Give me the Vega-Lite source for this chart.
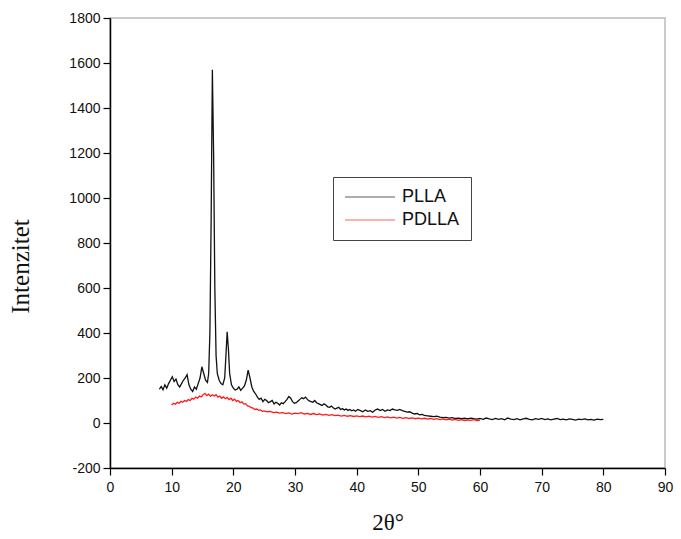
{
  "$schema": "https://vega.github.io/schema/vega-lite/v6.json",
  "autosize": "none",
  "width": 555,
  "height": 450,
  "padding": {"left": 110, "top": 18, "right": 16, "bottom": 71},
  "background": "white",
  "config": {
    "view": {"stroke": "#bbbbbb", "strokeWidth": 1.5},
    "axis": {"grid": false, "domainColor": "#000000", "domainWidth": 1.5, "tickColor": "#000000", "tickWidth": 1.2, "labelFont": "Liberation Sans", "labelFontSize": 14, "labelColor": "#111111", "titleFont": "Liberation Serif", "titleFontSize": 23, "titleFontWeight": "normal", "titleColor": "#111111"}
  },
  "datasets": {
    "pl": [
      {"t":8.0,"i":150,"s":"PLLA"},{"t":8.3,"i":162,"s":"PLLA"},{"t":8.6,"i":148,"s":"PLLA"},{"t":8.9,"i":170,"s":"PLLA"},{"t":9.2,"i":155,"s":"PLLA"},{"t":9.5,"i":175,"s":"PLLA"},{"t":9.8,"i":190,"s":"PLLA"},{"t":10.1,"i":205,"s":"PLLA"},{"t":10.4,"i":185,"s":"PLLA"},{"t":10.7,"i":195,"s":"PLLA"},{"t":11.0,"i":170,"s":"PLLA"},{"t":11.3,"i":160,"s":"PLLA"},{"t":11.6,"i":175,"s":"PLLA"},{"t":11.9,"i":190,"s":"PLLA"},{"t":12.2,"i":200,"s":"PLLA"},{"t":12.5,"i":215,"s":"PLLA"},{"t":12.8,"i":170,"s":"PLLA"},{"t":13.1,"i":150,"s":"PLLA"},{"t":13.4,"i":140,"s":"PLLA"},{"t":13.7,"i":160,"s":"PLLA"},{"t":14.0,"i":150,"s":"PLLA"},{"t":14.3,"i":175,"s":"PLLA"},{"t":14.6,"i":200,"s":"PLLA"},{"t":14.9,"i":250,"s":"PLLA"},{"t":15.2,"i":220,"s":"PLLA"},{"t":15.5,"i":190,"s":"PLLA"},{"t":15.8,"i":180,"s":"PLLA"},{"t":16.0,"i":220,"s":"PLLA"},{"t":16.2,"i":400,"s":"PLLA"},{"t":16.4,"i":900,"s":"PLLA"},{"t":16.6,"i":1570,"s":"PLLA"},{"t":16.8,"i":1200,"s":"PLLA"},{"t":17.0,"i":600,"s":"PLLA"},{"t":17.2,"i":300,"s":"PLLA"},{"t":17.4,"i":220,"s":"PLLA"},{"t":17.7,"i":190,"s":"PLLA"},{"t":18.0,"i":175,"s":"PLLA"},{"t":18.3,"i":170,"s":"PLLA"},{"t":18.6,"i":200,"s":"PLLA"},{"t":18.8,"i":300,"s":"PLLA"},{"t":19.0,"i":405,"s":"PLLA"},{"t":19.2,"i":330,"s":"PLLA"},{"t":19.4,"i":220,"s":"PLLA"},{"t":19.7,"i":170,"s":"PLLA"},{"t":20.0,"i":155,"s":"PLLA"},{"t":20.3,"i":147,"s":"PLLA"},{"t":20.6,"i":150,"s":"PLLA"},{"t":20.9,"i":160,"s":"PLLA"},{"t":21.2,"i":145,"s":"PLLA"},{"t":21.5,"i":155,"s":"PLLA"},{"t":21.8,"i":165,"s":"PLLA"},{"t":22.1,"i":190,"s":"PLLA"},{"t":22.4,"i":235,"s":"PLLA"},{"t":22.7,"i":200,"s":"PLLA"},{"t":23.0,"i":160,"s":"PLLA"},{"t":23.3,"i":140,"s":"PLLA"},{"t":23.6,"i":130,"s":"PLLA"},{"t":23.9,"i":115,"s":"PLLA"},{"t":24.2,"i":105,"s":"PLLA"},{"t":24.5,"i":110,"s":"PLLA"},{"t":24.8,"i":95,"s":"PLLA"},{"t":25.1,"i":105,"s":"PLLA"},{"t":25.4,"i":100,"s":"PLLA"},{"t":25.7,"i":90,"s":"PLLA"},{"t":26.0,"i":95,"s":"PLLA"},{"t":26.3,"i":100,"s":"PLLA"},{"t":26.6,"i":85,"s":"PLLA"},{"t":26.9,"i":92,"s":"PLLA"},{"t":27.2,"i":88,"s":"PLLA"},{"t":27.5,"i":80,"s":"PLLA"},{"t":27.8,"i":90,"s":"PLLA"},{"t":28.1,"i":86,"s":"PLLA"},{"t":28.4,"i":95,"s":"PLLA"},{"t":28.7,"i":105,"s":"PLLA"},{"t":29.0,"i":118,"s":"PLLA"},{"t":29.3,"i":110,"s":"PLLA"},{"t":29.6,"i":95,"s":"PLLA"},{"t":29.9,"i":88,"s":"PLLA"},{"t":30.2,"i":90,"s":"PLLA"},{"t":30.5,"i":98,"s":"PLLA"},{"t":30.8,"i":105,"s":"PLLA"},{"t":31.1,"i":112,"s":"PLLA"},{"t":31.4,"i":108,"s":"PLLA"},{"t":31.7,"i":115,"s":"PLLA"},{"t":32.0,"i":105,"s":"PLLA"},{"t":32.3,"i":98,"s":"PLLA"},{"t":32.6,"i":95,"s":"PLLA"},{"t":32.9,"i":92,"s":"PLLA"},{"t":33.2,"i":100,"s":"PLLA"},{"t":33.5,"i":90,"s":"PLLA"},{"t":33.8,"i":86,"s":"PLLA"},{"t":34.1,"i":82,"s":"PLLA"},{"t":34.4,"i":78,"s":"PLLA"},{"t":34.7,"i":85,"s":"PLLA"},{"t":35.0,"i":80,"s":"PLLA"},{"t":35.3,"i":72,"s":"PLLA"},{"t":35.6,"i":70,"s":"PLLA"},{"t":35.9,"i":75,"s":"PLLA"},{"t":36.2,"i":68,"s":"PLLA"},{"t":36.5,"i":62,"s":"PLLA"},{"t":36.8,"i":66,"s":"PLLA"},{"t":37.1,"i":70,"s":"PLLA"},{"t":37.4,"i":60,"s":"PLLA"},{"t":37.7,"i":64,"s":"PLLA"},{"t":38.0,"i":58,"s":"PLLA"},{"t":38.3,"i":62,"s":"PLLA"},{"t":38.6,"i":56,"s":"PLLA"},{"t":38.9,"i":60,"s":"PLLA"},{"t":39.2,"i":54,"s":"PLLA"},{"t":39.5,"i":58,"s":"PLLA"},{"t":39.8,"i":52,"s":"PLLA"},{"t":40.2,"i":60,"s":"PLLA"},{"t":40.6,"i":55,"s":"PLLA"},{"t":41.0,"i":50,"s":"PLLA"},{"t":41.4,"i":58,"s":"PLLA"},{"t":41.8,"i":52,"s":"PLLA"},{"t":42.2,"i":55,"s":"PLLA"},{"t":42.6,"i":48,"s":"PLLA"},{"t":43.0,"i":58,"s":"PLLA"},{"t":43.4,"i":62,"s":"PLLA"},{"t":43.8,"i":55,"s":"PLLA"},{"t":44.2,"i":60,"s":"PLLA"},{"t":44.6,"i":52,"s":"PLLA"},{"t":45.0,"i":58,"s":"PLLA"},{"t":45.4,"i":55,"s":"PLLA"},{"t":45.8,"i":62,"s":"PLLA"},{"t":46.2,"i":58,"s":"PLLA"},{"t":46.6,"i":56,"s":"PLLA"},{"t":47.0,"i":60,"s":"PLLA"},{"t":47.4,"i":55,"s":"PLLA"},{"t":47.8,"i":52,"s":"PLLA"},{"t":48.2,"i":48,"s":"PLLA"},{"t":48.6,"i":50,"s":"PLLA"},{"t":49.0,"i":44,"s":"PLLA"},{"t":49.4,"i":40,"s":"PLLA"},{"t":49.8,"i":42,"s":"PLLA"},{"t":50.2,"i":36,"s":"PLLA"},{"t":50.6,"i":38,"s":"PLLA"},{"t":51.0,"i":34,"s":"PLLA"},{"t":51.5,"i":32,"s":"PLLA"},{"t":52.0,"i":30,"s":"PLLA"},{"t":52.5,"i":28,"s":"PLLA"},{"t":53.0,"i":30,"s":"PLLA"},{"t":53.5,"i":26,"s":"PLLA"},{"t":54.0,"i":24,"s":"PLLA"},{"t":54.5,"i":25,"s":"PLLA"},{"t":55.0,"i":22,"s":"PLLA"},{"t":55.5,"i":24,"s":"PLLA"},{"t":56.0,"i":20,"s":"PLLA"},{"t":56.5,"i":22,"s":"PLLA"},{"t":57.0,"i":19,"s":"PLLA"},{"t":57.5,"i":21,"s":"PLLA"},{"t":58.0,"i":18,"s":"PLLA"},{"t":58.5,"i":22,"s":"PLLA"},{"t":59.0,"i":19,"s":"PLLA"},{"t":59.5,"i":17,"s":"PLLA"},{"t":60.0,"i":20,"s":"PLLA"},{"t":60.5,"i":16,"s":"PLLA"},{"t":61.0,"i":22,"s":"PLLA"},{"t":61.5,"i":18,"s":"PLLA"},{"t":62.0,"i":15,"s":"PLLA"},{"t":62.5,"i":20,"s":"PLLA"},{"t":63.0,"i":16,"s":"PLLA"},{"t":63.5,"i":19,"s":"PLLA"},{"t":64.0,"i":14,"s":"PLLA"},{"t":64.5,"i":22,"s":"PLLA"},{"t":65.0,"i":17,"s":"PLLA"},{"t":65.5,"i":15,"s":"PLLA"},{"t":66.0,"i":19,"s":"PLLA"},{"t":66.5,"i":14,"s":"PLLA"},{"t":67.0,"i":18,"s":"PLLA"},{"t":67.5,"i":21,"s":"PLLA"},{"t":68.0,"i":16,"s":"PLLA"},{"t":68.5,"i":14,"s":"PLLA"},{"t":69.0,"i":19,"s":"PLLA"},{"t":69.5,"i":16,"s":"PLLA"},{"t":70.0,"i":20,"s":"PLLA"},{"t":70.5,"i":15,"s":"PLLA"},{"t":71.0,"i":18,"s":"PLLA"},{"t":71.5,"i":14,"s":"PLLA"},{"t":72.0,"i":17,"s":"PLLA"},{"t":72.5,"i":20,"s":"PLLA"},{"t":73.0,"i":15,"s":"PLLA"},{"t":73.5,"i":17,"s":"PLLA"},{"t":74.0,"i":14,"s":"PLLA"},{"t":74.5,"i":18,"s":"PLLA"},{"t":75.0,"i":16,"s":"PLLA"},{"t":75.5,"i":13,"s":"PLLA"},{"t":76.0,"i":17,"s":"PLLA"},{"t":76.5,"i":15,"s":"PLLA"},{"t":77.0,"i":18,"s":"PLLA"},{"t":77.5,"i":14,"s":"PLLA"},{"t":78.0,"i":16,"s":"PLLA"},{"t":78.5,"i":13,"s":"PLLA"},{"t":79.0,"i":17,"s":"PLLA"},{"t":79.5,"i":15,"s":"PLLA"},{"t":80.0,"i":16,"s":"PLLA"}
    ],
    "pd": [
      {"t":10.0,"i":80,"s":"PDLLA"},{"t":10.3,"i":88,"s":"PDLLA"},{"t":10.6,"i":84,"s":"PDLLA"},{"t":10.9,"i":92,"s":"PDLLA"},{"t":11.2,"i":88,"s":"PDLLA"},{"t":11.5,"i":96,"s":"PDLLA"},{"t":11.8,"i":92,"s":"PDLLA"},{"t":12.1,"i":100,"s":"PDLLA"},{"t":12.4,"i":96,"s":"PDLLA"},{"t":12.7,"i":104,"s":"PDLLA"},{"t":13.0,"i":100,"s":"PDLLA"},{"t":13.3,"i":110,"s":"PDLLA"},{"t":13.6,"i":106,"s":"PDLLA"},{"t":13.9,"i":115,"s":"PDLLA"},{"t":14.2,"i":110,"s":"PDLLA"},{"t":14.5,"i":120,"s":"PDLLA"},{"t":14.8,"i":116,"s":"PDLLA"},{"t":15.1,"i":126,"s":"PDLLA"},{"t":15.4,"i":132,"s":"PDLLA"},{"t":15.7,"i":122,"s":"PDLLA"},{"t":16.0,"i":128,"s":"PDLLA"},{"t":16.3,"i":118,"s":"PDLLA"},{"t":16.6,"i":125,"s":"PDLLA"},{"t":16.9,"i":120,"s":"PDLLA"},{"t":17.2,"i":126,"s":"PDLLA"},{"t":17.5,"i":115,"s":"PDLLA"},{"t":17.8,"i":120,"s":"PDLLA"},{"t":18.1,"i":110,"s":"PDLLA"},{"t":18.4,"i":116,"s":"PDLLA"},{"t":18.7,"i":108,"s":"PDLLA"},{"t":19.0,"i":114,"s":"PDLLA"},{"t":19.3,"i":104,"s":"PDLLA"},{"t":19.6,"i":110,"s":"PDLLA"},{"t":19.9,"i":100,"s":"PDLLA"},{"t":20.2,"i":106,"s":"PDLLA"},{"t":20.5,"i":96,"s":"PDLLA"},{"t":20.8,"i":100,"s":"PDLLA"},{"t":21.1,"i":90,"s":"PDLLA"},{"t":21.4,"i":94,"s":"PDLLA"},{"t":21.7,"i":84,"s":"PDLLA"},{"t":22.0,"i":86,"s":"PDLLA"},{"t":22.3,"i":76,"s":"PDLLA"},{"t":22.6,"i":74,"s":"PDLLA"},{"t":22.9,"i":68,"s":"PDLLA"},{"t":23.2,"i":66,"s":"PDLLA"},{"t":23.5,"i":60,"s":"PDLLA"},{"t":23.8,"i":62,"s":"PDLLA"},{"t":24.1,"i":56,"s":"PDLLA"},{"t":24.4,"i":58,"s":"PDLLA"},{"t":24.7,"i":52,"s":"PDLLA"},{"t":25.0,"i":54,"s":"PDLLA"},{"t":25.5,"i":50,"s":"PDLLA"},{"t":26.0,"i":52,"s":"PDLLA"},{"t":26.5,"i":46,"s":"PDLLA"},{"t":27.0,"i":48,"s":"PDLLA"},{"t":27.5,"i":44,"s":"PDLLA"},{"t":28.0,"i":46,"s":"PDLLA"},{"t":28.5,"i":42,"s":"PDLLA"},{"t":29.0,"i":45,"s":"PDLLA"},{"t":29.5,"i":40,"s":"PDLLA"},{"t":30.0,"i":44,"s":"PDLLA"},{"t":30.5,"i":42,"s":"PDLLA"},{"t":31.0,"i":46,"s":"PDLLA"},{"t":31.5,"i":40,"s":"PDLLA"},{"t":32.0,"i":43,"s":"PDLLA"},{"t":32.5,"i":38,"s":"PDLLA"},{"t":33.0,"i":42,"s":"PDLLA"},{"t":33.5,"i":37,"s":"PDLLA"},{"t":34.0,"i":40,"s":"PDLLA"},{"t":34.5,"i":35,"s":"PDLLA"},{"t":35.0,"i":38,"s":"PDLLA"},{"t":35.5,"i":34,"s":"PDLLA"},{"t":36.0,"i":37,"s":"PDLLA"},{"t":36.5,"i":33,"s":"PDLLA"},{"t":37.0,"i":35,"s":"PDLLA"},{"t":37.5,"i":31,"s":"PDLLA"},{"t":38.0,"i":34,"s":"PDLLA"},{"t":38.5,"i":30,"s":"PDLLA"},{"t":39.0,"i":33,"s":"PDLLA"},{"t":39.5,"i":29,"s":"PDLLA"},{"t":40.0,"i":32,"s":"PDLLA"},{"t":40.5,"i":28,"s":"PDLLA"},{"t":41.0,"i":31,"s":"PDLLA"},{"t":41.5,"i":27,"s":"PDLLA"},{"t":42.0,"i":30,"s":"PDLLA"},{"t":42.5,"i":26,"s":"PDLLA"},{"t":43.0,"i":29,"s":"PDLLA"},{"t":43.5,"i":25,"s":"PDLLA"},{"t":44.0,"i":28,"s":"PDLLA"},{"t":44.5,"i":24,"s":"PDLLA"},{"t":45.0,"i":27,"s":"PDLLA"},{"t":45.5,"i":23,"s":"PDLLA"},{"t":46.0,"i":26,"s":"PDLLA"},{"t":46.5,"i":22,"s":"PDLLA"},{"t":47.0,"i":25,"s":"PDLLA"},{"t":47.5,"i":21,"s":"PDLLA"},{"t":48.0,"i":24,"s":"PDLLA"},{"t":48.5,"i":20,"s":"PDLLA"},{"t":49.0,"i":23,"s":"PDLLA"},{"t":49.5,"i":19,"s":"PDLLA"},{"t":50.0,"i":22,"s":"PDLLA"},{"t":50.5,"i":18,"s":"PDLLA"},{"t":51.0,"i":21,"s":"PDLLA"},{"t":51.5,"i":17,"s":"PDLLA"},{"t":52.0,"i":20,"s":"PDLLA"},{"t":52.5,"i":16,"s":"PDLLA"},{"t":53.0,"i":19,"s":"PDLLA"},{"t":53.5,"i":15,"s":"PDLLA"},{"t":54.0,"i":18,"s":"PDLLA"},{"t":54.5,"i":14,"s":"PDLLA"},{"t":55.0,"i":17,"s":"PDLLA"},{"t":55.5,"i":13,"s":"PDLLA"},{"t":56.0,"i":16,"s":"PDLLA"},{"t":56.5,"i":12,"s":"PDLLA"},{"t":57.0,"i":15,"s":"PDLLA"},{"t":57.5,"i":11,"s":"PDLLA"},{"t":58.0,"i":14,"s":"PDLLA"},{"t":58.5,"i":12,"s":"PDLLA"},{"t":59.0,"i":15,"s":"PDLLA"},{"t":59.5,"i":11,"s":"PDLLA"},{"t":60.0,"i":13,"s":"PDLLA"}
    ]
  },
  "layer": [
    {
      "data": {"name": "pl"},
      "mark": {"type": "line", "strokeWidth": 1.3, "clip": true},
      "encoding": {
        "x": {"field": "t", "type": "quantitative", "scale": {"domain": [0, 90], "nice": false, "zero": false},
          "axis": {"title": "2θ°", "values": [0,5,10,15,20,25,30,35,40,45,50,55,60,65,70,75,80,85,90], "labelExpr": "datum.value % 10 === 0 ? '' + datum.value : ''", "tickSize": {"condition": {"test": "datum.value % 10 === 0", "value": 7}, "value": 4}, "labelPadding": 5, "titlePadding": 17, "labelFlush": false}},
        "y": {"field": "i", "type": "quantitative", "scale": {"domain": [-200, 1800], "nice": false, "zero": false},
          "axis": {"title": "Intenzitet", "titleFontSize": 25, "titleX": -77, "titleY": 248, "values": [-200,-100,0,100,200,300,400,500,600,700,800,900,1000,1100,1200,1300,1400,1500,1600,1700,1800], "labelExpr": "datum.value % 200 === 0 ? '' + datum.value : ''", "tickSize": {"condition": {"test": "datum.value % 200 === 0", "value": 7}, "value": 4}, "labelPadding": 3, "titlePadding": 26, "labelFlush": false}},
        "color": {"field": "s", "type": "nominal", "scale": {"domain": ["PLLA", "PDLLA"], "range": ["#111111", "#ff1a1a"]},
          "legend": {"title": null, "orient": "none", "legendX": 223, "legendY": 159, "strokeColor": "#444444", "padding": 11, "symbolType": "stroke", "symbolSize": 2500, "clipHeight": 18, "symbolStrokeWidth": 1.5, "symbolOpacity": 0.45, "labelFont": "Liberation Sans", "labelFontSize": 18, "labelColor": "#111111", "labelOffset": 6, "rowPadding": 5, "fillColor": "white"}}
      }
    },
    {
      "data": {"name": "pd"},
      "mark": {"type": "line", "strokeWidth": 1.3, "clip": true},
      "encoding": {
        "x": {"field": "t", "type": "quantitative"},
        "y": {"field": "i", "type": "quantitative"},
        "color": {"field": "s", "type": "nominal"}
      }
    }
  ]
}
